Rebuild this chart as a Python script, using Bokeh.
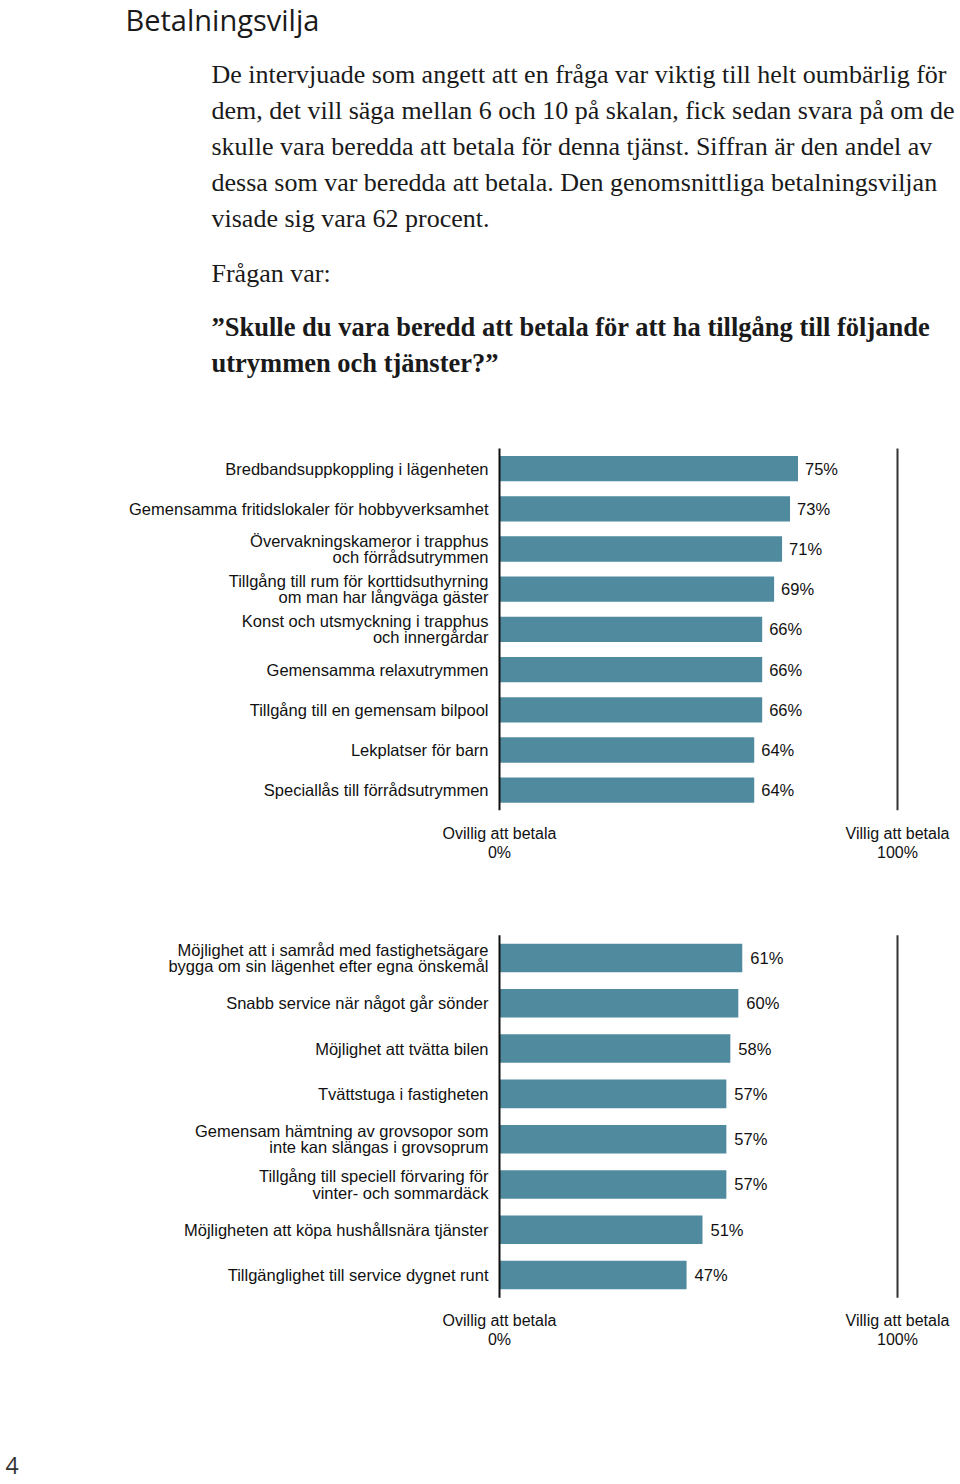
from bokeh.plotting import figure
from bokeh.models import Range1d, ColumnDataSource
from bokeh.core.properties import value
from bokeh.embed import file_html
from bokeh.resources import INLINE

# ---------------- data ----------------
title = "Betalningsvilja"
intro_lines = [
    "De intervjuade som angett att en fråga var viktig till helt oumbärlig för",
    "dem, det vill säga mellan 6 och 10 på skalan, fick sedan svara på om de",
    "skulle vara beredda att betala för denna tjänst. Siffran är den andel av",
    "dessa som var beredda att betala. Den genomsnittliga betalningsviljan",
    "visade sig vara 62 procent.",
]
question_intro = "Frågan var:"
question_lines = [
    "\u201dSkulle du vara beredd att betala för att ha tillgång till följande",
    "utrymmen och tjänster?\u201d",
]

cats1 = [
    "Bredbandsuppkoppling i lägenheten",
    "Gemensamma fritidslokaler för hobbyverksamhet",
    "Övervakningskameror i trapphus\noch förrådsutrymmen",
    "Tillgång till rum för korttidsuthyrning\nom man har långväga gäster",
    "Konst och utsmyckning i trapphus\noch innergårdar",
    "Gemensamma relaxutrymmen",
    "Tillgång till en gemensam bilpool",
    "Lekplatser för barn",
    "Speciallås till förrådsutrymmen",
]
vals1 = [75, 73, 71, 69, 66, 66, 66, 64, 64]

cats2 = [
    "Möjlighet att i samråd med fastighetsägare\nbygga om sin lägenhet efter egna önskemål",
    "Snabb service när något går sönder",
    "Möjlighet att tvätta bilen",
    "Tvättstuga i fastigheten",
    "Gemensam hämtning av grovsopor som\ninte kan slängas i grovsoprum",
    "Tillgång till speciell förvaring för\nvinter- och sommardäck",
    "Möjligheten att köpa hushållsnära tjänster",
    "Tillgänglighet till service dygnet runt",
]
vals2 = [61, 60, 58, 57, 57, 57, 51, 47]

axis_ticks = [0, 100]
axis_names = ["Ovillig att betala", "Villig att betala"]
axis_pcts = ["0%", "100%"]
page_number = "4"

# ---------------- layout / style ----------------
W, H = 960, 1482
BAR_COLOR = "#4f8a9f"
SANS = value("Liberation Sans")
SERIF = value("Liberation Serif")
TXT = "#1a1a1a"

# percent scale: 0% at canvas x 499, 100% at canvas x 897
X0, PXU = 499.0, 3.98
# row scales (canvas px of first row centre, px per row)
R1_C0, R1_PITCH = 468.1, 40.2
R2_C0, R2_PITCH = 957.5, 45.29

p = figure(width=W, height=H, x_range=Range1d(0, W), y_range=Range1d(H, 0),
           output_backend="svg", toolbar_location=None, min_border=0,
           x_axis_location=None, y_axis_location=None,
           outline_line_color=None, background_fill_color="white",
           border_fill_color="white")
p.grid.visible = False

p.extra_x_ranges = {"pct": Range1d(-X0 / PXU, (W - X0) / PXU)}
p.extra_y_ranges = {
    "r1": Range1d((H - R1_C0) / R1_PITCH, -R1_C0 / R1_PITCH),
    "r2": Range1d((H - R2_C0) / R2_PITCH, -R2_C0 / R2_PITCH),
}

# ---------------- header text ----------------
p.text(x=[125], y=[19], text=[title], text_font=value("Open Sans"),
       text_font_size="29px", text_color=TXT, text_baseline="middle")
p.text(x=[211] * len(intro_lines), y=[74 + 36 * i for i in range(len(intro_lines))],
       text=intro_lines, text_font=SERIF, text_font_size="26px",
       text_color=TXT, text_baseline="middle")
p.text(x=[211], y=[273], text=[question_intro], text_font=SERIF,
       text_font_size="26px", text_color=TXT, text_baseline="middle")
p.text(x=[211] * len(question_lines), y=[326 + 36 * i for i in range(len(question_lines))],
       text=question_lines, text_font=SERIF, text_font_size="26.5px",
       text_font_style="bold", text_color=TXT, text_baseline="middle")
p.text(x=[5], y=[1465], text=[page_number], text_font=value("Open Sans"),
       text_font_size="23px", text_color="#333333", text_baseline="middle")


def draw_chart(cats, vals, rname, pitch, val_off):
    n = len(cats)
    kw = dict(x_range_name="pct", y_range_name=rname)
    src = ColumnDataSource(dict(row=list(range(n)), val=vals, cat=cats,
                                lbl=[f"{v}%" for v in vals]))
    p.hbar(y="row", left=0, right="val", height=0.63, source=src,
           fill_color=BAR_COLOR, line_color=None, **kw)
    p.segment(x0=axis_ticks, x1=axis_ticks, y0=[-0.5, -0.5], y1=[n - 0.5, n - 0.5],
              line_color=["#111111", "#333333"], line_width=2, **kw)
    p.text(x=0, y="row", text="cat", source=src, x_offset=-11,
           text_align="right", text_baseline="middle", text_font=SANS,
           text_font_size="16.5px", text_line_height=0.9, text_color="#111111", **kw)
    p.text(x="val", y="row", text="lbl", source=src, x_offset=val_off,
           text_align="left", text_baseline="middle", text_font=SANS,
           text_font_size="16.5px", text_color="#111111", **kw)
    base = n - 0.5
    p.text(x=axis_ticks, y=[base + 23 / pitch] * 2, text=axis_names,
           text_align="center", text_baseline="middle", text_font=SANS,
           text_font_size="16px", text_color="#111111", **kw)
    p.text(x=axis_ticks, y=[base + 42 / pitch] * 2, text=axis_pcts,
           text_align="center", text_baseline="middle", text_font=SANS,
           text_font_size="16px", text_color="#111111", **kw)


draw_chart(cats1, vals1, "r1", R1_PITCH, 7)
draw_chart(cats2, vals2, "r2", R2_PITCH, 8)

open("out.html", "w").write(file_html(p, INLINE))
